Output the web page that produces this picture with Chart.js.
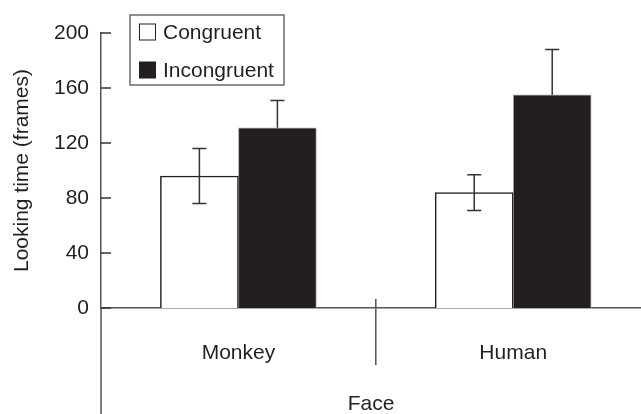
<!DOCTYPE html>
<html>
<head>
<meta charset="utf-8">
<script src="https://cdn.jsdelivr.net/npm/chart.js@4/dist/chart.umd.min.js"></script>
<style>
  html, body { margin: 0; padding: 0; background: #fff; }
  canvas { display: block; }
</style>
</head>
<body>
<canvas id="myChart" width="641" height="414"></canvas>
<script>
const categories = ["Monkey", "Human"];
const congruent = [96, 84];
const congruentErr = [20, 13];
const incongruent = [131, 155];
const incongruentErr = [20, 33];
const yTicks = [0, 40, 80, 120, 160, 200];

const ink = "#231f20";
const fontFamily = "'Liberation Sans', Arial, Helvetica, sans-serif";

const toPoints = (vals) => vals.map((v, i) => ({ x: i + 1, y: v }));

function drawErrors(chart, d) {
  const ctx = chart.ctx;
  const y = chart.scales.y;
  const ds = chart.data.datasets[d];
  const errs = [congruentErr, incongruentErr][d];
  ctx.save();
  ctx.strokeStyle = "#333";
  ctx.lineWidth = 1.5;
  chart.getDatasetMeta(d).data.forEach((bar, i) => {
    const v = ds.data[i].y;
    const top = y.getPixelForValue(v + errs[i]);
    const bot = y.getPixelForValue(v - errs[i]);
    ctx.beginPath();
    ctx.moveTo(bar.x, top);
    ctx.lineTo(bar.x, bot);
    ctx.moveTo(bar.x - 7, top);
    ctx.lineTo(bar.x + 7, top);
    ctx.moveTo(bar.x - 7, bot);
    ctx.lineTo(bar.x + 7, bot);
    ctx.stroke();
  });
  ctx.restore();
}

// white bars show the whole whisker, black bars hide the lower half
const errorBars = {
  id: "errorBars",
  beforeDatasetDraw(chart, args) {
    if (args.index === 1) drawErrors(chart, 1);
  },
  afterDatasetDraw(chart, args) {
    if (args.index === 0) drawErrors(chart, 0);
  },
};

// inward ticks, long y axis, group divider and boxed legend
const decorations = {
  id: "decorations",
  afterDraw(chart) {
    const ctx = chart.ctx;
    const area = chart.chartArea;
    const x = chart.scales.x;
    const y = chart.scales.y;
    ctx.save();
    ctx.strokeStyle = "#333";
    ctx.lineWidth = 1.5;
    ctx.beginPath();
    yTicks.forEach((t) => {
      const py = y.getPixelForValue(t);
      ctx.moveTo(area.left, py);
      ctx.lineTo(area.left + 10, py);
    });
    ctx.stroke();

    ctx.strokeStyle = "#555";
    ctx.beginPath();
    ctx.moveTo(area.left, area.bottom);
    ctx.lineTo(area.left, chart.height);
    const dx = x.getPixelForValue(1.5);
    ctx.moveTo(dx, area.bottom - 9);
    ctx.lineTo(dx, area.bottom + 57);
    ctx.stroke();

    // legend
    ctx.strokeStyle = "#444";
    ctx.lineWidth = 1.2;
    ctx.strokeRect(130, 15, 154, 70);
    ctx.font = "21px " + fontFamily;
    ctx.textBaseline = "middle";
    chart.data.datasets.forEach((ds, d) => {
      const cy = 32 + d * 38;
      ctx.fillStyle = ds.backgroundColor;
      ctx.fillRect(139.5, cy - 8, 16, 16);
      ctx.strokeStyle = ink;
      ctx.lineWidth = 1;
      ctx.strokeRect(139.5, cy - 8, 16, 16);
      ctx.fillStyle = ink;
      ctx.fillText(ds.label, 163, cy + 1);
    });
    ctx.restore();
  },
};

const ctx = document.getElementById("myChart").getContext("2d");
const myChart = new Chart(ctx, {
  type: "bar",
  data: {
    datasets: [
      {
        label: "Congruent",
        data: toPoints(congruent),
        backgroundColor: "#ffffff",
        borderColor: ink,
        borderWidth: 1.5,
        barThickness: 78,
      },
      {
        label: "Incongruent",
        data: toPoints(incongruent),
        backgroundColor: ink,
        borderColor: "#aaa",
        borderWidth: 1,
        barThickness: 78,
      },
    ],
  },
  options: {
    responsive: false,
    animation: false,
    events: [],
    layout: { padding: { top: 33, left: 0, right: 0, bottom: 0 } },
    plugins: {
      legend: { display: false },
      tooltip: { enabled: false },
    },
    scales: {
      x: {
        type: "linear",
        offset: false,
        min: 0.5,
        max: 2.465,
        grid: { display: false, drawTicks: false, offset: false },
        border: { display: true, color: "#555", width: 1.5 },
        afterBuildTicks: (scale) => {
          scale.ticks = categories.map((c, i) => ({ value: i + 1 }));
        },
        afterFit: (scale) => {
          scale.height = 106;
        },
        ticks: {
          padding: 33,
          color: ink,
          font: { size: 21, family: fontFamily },
          callback: (v) => categories[v - 1],
        },
        title: {
          display: true,
          text: "Face",
          color: ink,
          font: { size: 21, family: fontFamily },
          padding: { top: 0, bottom: -3 },
        },
      },
      y: {
        min: 0,
        max: 200,
        afterBuildTicks: (scale) => {
          scale.ticks = yTicks.map((v) => ({ value: v }));
        },
        afterFit: (scale) => {
          scale.width = 101;
        },
        grid: { display: false, drawTicks: false },
        border: { display: true, color: "#555", width: 1.5 },
        ticks: {
          padding: 12,
          color: ink,
          font: { size: 21, family: fontFamily },
        },
        title: {
          display: true,
          text: "Looking time (frames)",
          color: ink,
          font: { size: 21, family: fontFamily },
          padding: { top: 10, bottom: 0 },
        },
      },
    },
  },
  plugins: [errorBars, decorations],
});
</script>
</body>
</html>
